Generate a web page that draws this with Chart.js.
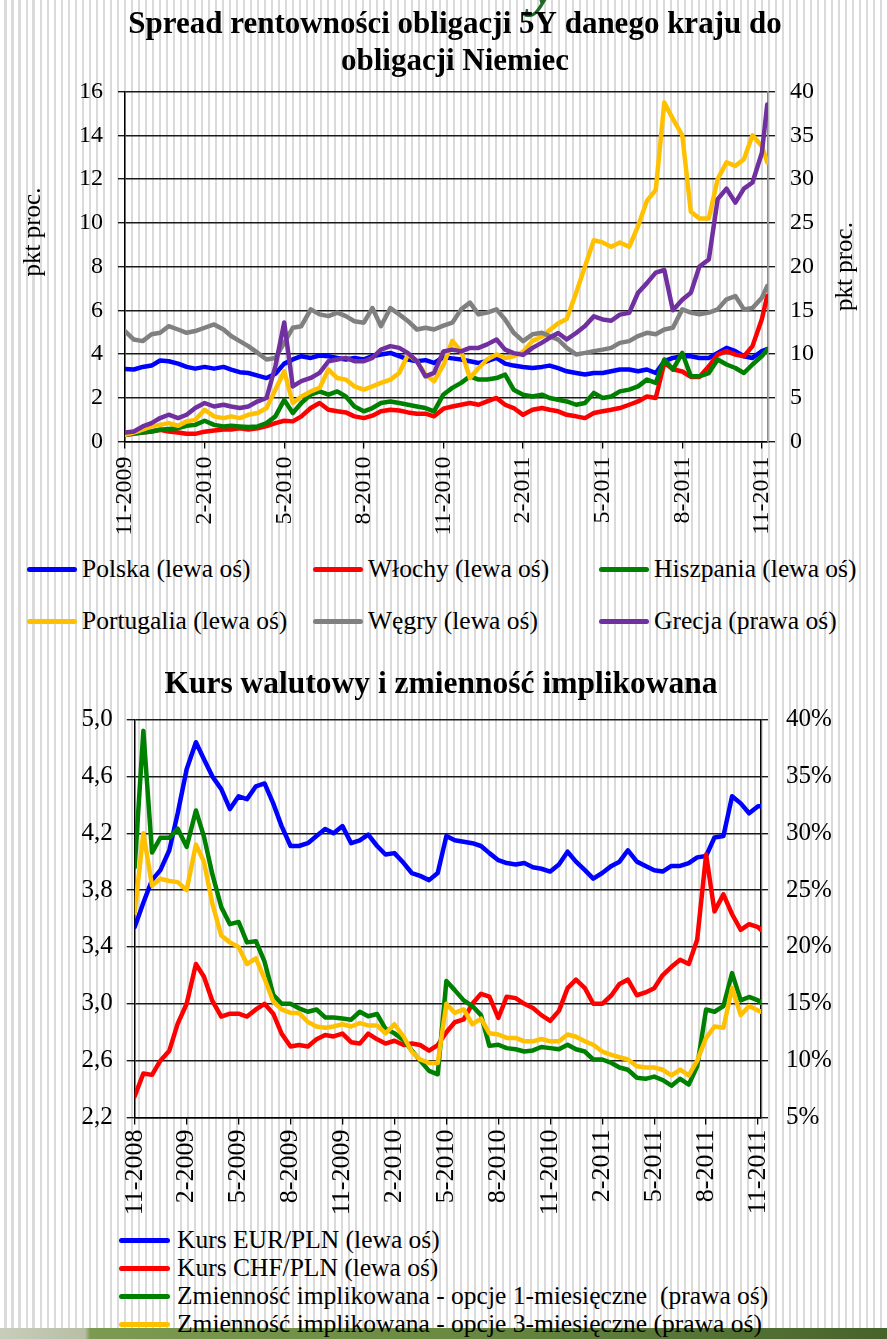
<!DOCTYPE html>
<html>
<head>
<meta charset="utf-8">
<script src="https://cdn.jsdelivr.net/npm/chart.js@4.4.1/dist/chart.umd.min.js"></script>
<style>
html,body{margin:0;padding:0;}
body{width:887px;height:1339px;position:relative;overflow:hidden;
  background:repeating-linear-gradient(90deg,#ffffff 0px,#ffffff 4.5px,#dadada 4.5px,#dadada 7px);
  font-family:'Liberation Serif','Times New Roman',serif;color:#000;}
canvas{position:absolute;left:0;}
#c1{top:0;}
#c2{top:650px;}
.leg{position:absolute;display:flex;align-items:center;height:30px;line-height:30px;font-size:25.5px;white-space:pre;}
.sw{display:inline-block;height:5px;border-radius:3px;}
#band{position:absolute;left:0;top:1328px;width:887px;height:11px;
  background:linear-gradient(90deg,#c8cdbb 0px,#b7bfa5 85px,#7d9a52 90px,#6a8a42 50%,#47632c 100%);}
#deco{position:absolute;left:531px;top:-50px;font:italic bold 64px/64px 'Liberation Serif',serif;color:#1f6a2a;}
</style>
</head>
<body>
<div id="deco">y</div>
<canvas id="c1" width="887" height="548"></canvas>
<canvas id="c2" width="887" height="575"></canvas>
<div id="band"></div>
<script>
// ---------------- Chart 1 data: spreads vs German 5Y bonds ----------------
const title1 = ['Spread rentowności obligacji 5Y danego kraju do', 'obligacji Niemiec'];
const dates1 = [
 '2009-11-01','2009-11-11','2009-11-21','2009-12-01','2009-12-11','2009-12-21',
 '2010-01-01','2010-01-11','2010-01-21','2010-02-01','2010-02-11','2010-02-21',
 '2010-03-01','2010-03-11','2010-03-21','2010-04-01','2010-04-11','2010-04-21',
 '2010-05-01','2010-05-11','2010-05-21','2010-06-01','2010-06-11','2010-06-21',
 '2010-07-01','2010-07-11','2010-07-21','2010-08-01','2010-08-11','2010-08-21',
 '2010-09-01','2010-09-11','2010-09-21','2010-10-01','2010-10-11','2010-10-21',
 '2010-11-01','2010-11-11','2010-11-21','2010-12-01','2010-12-11','2010-12-21',
 '2011-01-01','2011-01-11','2011-01-21','2011-02-01','2011-02-11','2011-02-21',
 '2011-03-01','2011-03-11','2011-03-21','2011-04-01','2011-04-11','2011-04-21',
 '2011-05-01','2011-05-11','2011-05-21','2011-06-01','2011-06-11','2011-06-21',
 '2011-07-01','2011-07-11','2011-07-21','2011-08-01','2011-08-11','2011-08-21',
 '2011-09-01','2011-09-11','2011-09-21','2011-10-01','2011-10-11','2011-10-21',
 '2011-11-01','2011-11-07'];
const labels1 = ['Polska (lewa oś)','Włochy (lewa oś)','Hiszpania (lewa oś)','Portugalia (lewa oś)','Węgry (lewa oś)','Grecja (prawa oś)'];
const polska = [3.32,3.29,3.41,3.47,3.7,3.67,3.56,3.41,3.33, 3.41,3.33,3.41,3.29,3.17,3.13,3.01,2.9,3.1,
 3.56,3.75,3.9,3.82,3.93,3.9,3.82,3.75,3.82, 3.75,3.9,3.98,4.05,3.9,3.75,3.67,3.72,3.59,
 3.85,3.8,3.75,3.67,3.59,3.67,3.82,3.56,3.47, 3.41,3.36,3.41,3.47,3.35,3.21,3.13,3.06,3.13,
 3.13,3.21,3.29,3.29,3.21,3.29,3.13,3.67,3.82, 3.9,3.9,3.82,3.82,4.05,4.28,4.13,3.9,3.82, 4.13,4.23];
const wlochy = [0.3,0.35,0.41,0.46,0.54,0.46,0.41,0.35,0.35, 0.45,0.5,0.55,0.55,0.6,0.55,0.6,0.7,0.84,
 0.95,0.92,1.15,1.53,1.76,1.45,1.38,1.33,1.15, 1.07,1.18,1.38,1.45,1.42,1.33,1.27,1.27,1.15,
 1.5,1.6,1.68,1.76,1.68,1.83,1.99,1.68,1.53, 1.22,1.45,1.53,1.45,1.38,1.22,1.15,1.07,1.3,
 1.38,1.45,1.53,1.68,1.83,2.06,1.99,3.6,3.3, 3.2,2.95,2.95,3.44,3.97,4.13,3.97,3.9,4.36, 5.6,6.65];
const hiszpania = [0.3,0.38,0.41,0.46,0.54,0.57,0.61,0.72,0.76, 0.95,0.76,0.69,0.72,0.69,0.66,0.69,0.84,1.15,
 1.9,1.3,1.76,2.14,2.29,2.14,2.29,2.06,1.6, 1.38,1.53,1.76,1.83,1.76,1.68,1.6,1.53,1.38,
 2.15,2.45,2.68,2.98,2.83,2.83,2.9,3.06,2.37, 2.14,2.06,2.14,1.99,1.91,1.83,1.68,1.76,2.22,
 1.99,2.06,2.29,2.37,2.52,2.83,2.68,3.75,3.29, 4.05,2.98,2.98,3.13,3.75,3.52,3.36,3.13,3.52, 3.9,4.2];
const portugalia = [0.3,0.41,0.54,0.69,0.76,0.84,0.72,0.92,0.99, 1.45,1.15,1.07,1.15,1.07,1.22,1.3,1.53,2.37,
 3.21,1.76,2.06,2.29,2.45,3.29,2.9,2.83,2.52, 2.37,2.52,2.68,2.83,3.13,3.98,3.67,3.06,2.75,
 3.5,4.6,4.13,2.9,3.36,3.75,3.98,3.82,3.9, 4.1,4.6,4.8,5.1,5.4,5.6,6.8,8.0,9.2,
 9.1,8.9,9.1,8.9,9.85,11.0,11.5,15.5,14.75, 14.0,10.5,10.2,10.2,12.0,12.76,12.6,12.9,14.0, 13.5,12.76];
const wegry = [5.05,4.66,4.59,4.9,4.97,5.27,5.12,4.97,5.05, 5.2,5.35,5.12,4.82,4.59,4.36,4.05,3.75,3.82,
 4.51,5.2,5.27,6.04,5.81,5.73,5.89,5.73,5.5, 5.43,6.1,5.27,6.1,5.81,5.5,5.12,5.2,5.12,
 5.3,5.43,6.04,6.35,5.81,5.89,6.04,5.58,4.97, 4.59,4.9,4.97,4.82,4.66,4.28,3.98,4.05,4.13,
 4.2,4.28,4.51,4.59,4.82,4.97,4.9,5.12,5.2, 6.04,5.89,5.81,5.89,6.04,6.5,6.65,6.04,6.1, 6.57,7.1];
const grecja = [1.03,1.15,1.72,2.1,2.68,3.06,2.68,3.06,3.82, 4.4,4.0,4.2,4.0,3.82,4.0,4.59,4.97,8.6,
 13.6,6.3,6.9,7.26,7.84,9.17,9.37,9.56,9.17, 9.17,9.56,10.5,10.9,10.7,10.1,9.17,7.45,7.84,
 10.3,10.5,10.3,10.7,10.7,11.1,11.66,10.5,10.1, 9.9,10.7,11.3,11.85,12.4,11.66,12.4,13.2,14.3,
 13.95,13.8,14.5,14.7,17.0,18.1,19.3,19.6,15.0, 16.2,17.0,20.0,20.8,27.7,28.9,27.3,28.9,29.6, 33.0,38.5];
const colors1 = ['#0000FF','#FF0000','#008000','#FFC000','#808080','#7030A0'];
const axes1 = ['y','y','y','y','y','y2'];
const yTicksLeft1 = {min:0, max:16, step:2};
const yTicksRight1 = {min:0, max:40, step:5};

// ---------------- Chart 2 data: FX rates and implied volatility ----------------
const title2 = 'Kurs walutowy i zmienność implikowana';
const dates2 = [
 '2008-11-01','2008-11-16','2008-12-01','2008-12-16',
 '2009-01-01','2009-01-16','2009-02-01','2009-02-16','2009-03-01','2009-03-16','2009-04-01','2009-04-16',
 '2009-05-01','2009-05-16','2009-06-01','2009-06-16','2009-07-01','2009-07-16','2009-08-01','2009-08-16',
 '2009-09-01','2009-09-16','2009-10-01','2009-10-16','2009-11-01','2009-11-16','2009-12-01','2009-12-16',
 '2010-01-01','2010-01-16','2010-02-01','2010-02-16','2010-03-01','2010-03-16','2010-04-01','2010-04-16',
 '2010-05-01','2010-05-16','2010-06-01','2010-06-16','2010-07-01','2010-07-16','2010-08-01','2010-08-16',
 '2010-09-01','2010-09-16','2010-10-01','2010-10-16','2010-11-01','2010-11-16','2010-12-01','2010-12-16',
 '2011-01-01','2011-01-16','2011-02-01','2011-02-16','2011-03-01','2011-03-16','2011-04-01','2011-04-16',
 '2011-05-01','2011-05-16','2011-06-01','2011-06-16','2011-07-01','2011-07-16','2011-08-01','2011-08-16',
 '2011-09-01','2011-09-16','2011-10-01','2011-10-16','2011-11-01','2011-11-06'];
const labels2 = ['Kurs EUR/PLN (lewa oś)','Kurs CHF/PLN (lewa oś)','Zmienność implikowana - opcje 1-miesięczne  (prawa oś)','Zmienność implikowana - opcje 3-miesięczne (prawa oś)'];
const eurpln = [3.54,3.71,3.87,3.94,4.08,4.34,4.65,4.84,4.72,4.6,
 4.51,4.37,4.46,4.44,4.53,4.55,4.41,4.25,4.11,4.11,
 4.13,4.18,4.23,4.2,4.25,4.13,4.15,4.19,4.11,4.05,
 4.06,3.99,3.92,3.9,3.87,3.92,4.18,4.15,4.14,4.13,
 4.11,4.06,4.01,3.99,3.98,3.99,3.96,3.95,3.93,3.98,
 4.07,4.0,3.94,3.88,3.92,3.97,4.0,4.08,4.0,3.97,
 3.94,3.93,3.97,3.97,3.99,4.03,4.04,4.17,4.18,4.46,
 4.41,4.34,4.39,4.39];
const chfpln = [2.35,2.51,2.5,2.6,2.67,2.86,3.0,3.28,3.19,3.02,
 2.91,2.93,2.93,2.91,2.96,3.0,2.93,2.79,2.7,2.71,
 2.7,2.75,2.78,2.77,2.79,2.73,2.72,2.79,2.75,2.72,
 2.74,2.71,2.72,2.71,2.67,2.71,2.8,2.87,2.89,3.0,
 3.07,3.05,2.9,3.05,3.04,3.0,2.97,2.92,2.88,2.95,
 3.11,3.17,3.11,3.0,3.0,3.06,3.14,3.17,3.06,3.08,
 3.11,3.2,3.26,3.31,3.28,3.45,4.05,3.65,3.77,3.63,
 3.52,3.56,3.54,3.52];
const vol1m = [27,39,28.3,29.6,29.6,30.4,28.8,32,29.7,26.4,
 23.5,22,22.2,20.4,20.5,18.7,15.8,15,15,14.6,
 14.3,14.5,13.8,13.8,13.7,13.6,14.3,13.9,14.1,12.8,
 12.4,11.8,10.9,10,9.1,8.8,17,16.2,15.3,14.8,
 14.0,11.3,11.4,11.1,11.0,10.8,10.9,11.2,11.1,11.0,
 11.4,11.0,10.8,10.1,10.1,9.8,9.4,9.2,8.5,8.4,
 8.6,8.3,7.8,8.4,7.9,9.5,14.5,14.3,14.8,17.7,
 15.3,15.6,15.3,15.1];
const vol3m = [23,30,25.4,26,25.8,25.7,25,29,27.5,23.8,
 21,20.4,20,18.5,19,17.2,15.2,14.5,14.2,14.2,
 13.4,13,12.9,13,13.2,13,13.3,13.1,13.1,12.4,
 13.2,12.1,10.8,10.1,9.8,9.8,15,14.2,14.5,13.2,
 13.7,12.4,12.3,12.0,12.0,11.7,11.7,11.9,11.7,11.7,
 12.3,12.1,11.7,11.4,10.8,10.5,10.3,10.1,9.5,9.4,
 9.4,9.2,8.7,9.2,8.7,10.0,12.0,13.0,12.9,16.4,
 14.0,14.8,14.4,14.3];
const colors2 = ['#0000FF','#FF0000','#008000','#FFC000'];
const axes2 = ['y','y','y2','y2'];
const yTicksLeft2 = {min:2.2, max:5.0, step:0.4};
const yTicksRight2 = {min:5, max:40, step:5};

// ---------------- helpers ----------------
function monthPos(s, y0, m0){
  const [y,m,d] = s.split('-').map(Number);
  const dim = new Date(y, m, 0).getDate();
  return (y - y0) * 12 + (m - m0) + (d - 1) / dim;
}
function monthLabel(v, y0, m0){
  const idx = (m0 - 1) + Math.round(v);
  return ((idx % 12) + 1) + '-' + (y0 + Math.floor(idx / 12));
}
Chart.defaults.font.family = "'Liberation Serif','Times New Roman',serif";
Chart.defaults.color = '#000';

const axisTitles = {
  id:'axisTitles',
  afterDraw(chart, args, opts){
    if(!opts || !opts.items) return;
    const ctx = chart.ctx, ca = chart.chartArea;
    ctx.save();
    ctx.font = opts.font;
    ctx.fillStyle = '#000';
    ctx.textAlign = 'center';
    ctx.textBaseline = 'middle';
    opts.items.forEach(it => {
      const x = it.side === 'left' ? ca.left + it.dx : ca.right + it.dx;
      const y = ca.top + it.dy;
      ctx.save(); ctx.translate(x, y); ctx.rotate(-Math.PI / 2);
      ctx.fillText(it.text, 0, 0); ctx.restore();
    });
    ctx.restore();
  }
};

function buildDatasets(dates, y0, m0, series, labels, colors, axes){
  return series.map((vals, i) => ({
    label: labels[i],
    data: vals.map((v, k) => ({x: monthPos(dates[k], y0, m0), y: v})),
    borderColor: colors[i], backgroundColor: colors[i],
    borderWidth: 4.5, pointRadius: 0, tension: 0,
    borderJoinStyle: 'round', borderCapStyle: 'round',
    yAxisID: axes[i], order: series.length - i
  }));
}

function htmlLegend(chart, positions, swW, gap){
  chart.data.datasets.forEach((ds, i) => {
    const p = positions[i];
    const d = document.createElement('div');
    d.className = 'leg';
    d.style.left = p[0] + 'px';
    d.style.top = (p[1] - 15) + 'px';
    const sw = document.createElement('span');
    sw.className = 'sw';
    sw.style.width = swW + 'px';
    sw.style.marginRight = gap + 'px';
    sw.style.background = ds.borderColor;
    const t = document.createElement('span');
    t.textContent = ds.label;
    d.appendChild(sw); d.appendChild(t);
    document.body.appendChild(d);
  });
}

// ---------------- Chart 1 ----------------
const chart1 = new Chart(document.getElementById('c1'), {
  type: 'line',
  data: { datasets: buildDatasets(dates1, 2009, 11, [polska, wlochy, hiszpania, portugalia, wegry, grecja], labels1, colors1, axes1) },
  options: {
    responsive: false, animation: false, devicePixelRatio: 1,
    layout: { padding: {left: 23, right: 0, top: 0, bottom: 0} },
    plugins: {
      legend: {display: false}, tooltip: {enabled: false},
      title: { display: true, text: title1, color: '#000',
        font: {size: 31, weight: 'bold', lineHeight: '37px'}, padding: {top: 6.5, bottom: 11} },
      axisTitles: { font: "25px 'Liberation Serif'", items: [
        {side: 'left', dx: -92, dy: 140.5, text: 'pkt proc.'},
        {side: 'right', dx: 77, dy: 175, text: 'pkt proc.'} ] }
    },
    scales: {
      x: { type: 'linear', min: 0, max: 24.23,
        afterFit(s){ s.height = 106.5; },
        grid: {drawOnChartArea: false, drawTicks: true, tickLength: 7, color: '#000', lineWidth: 1.3},
        border: {color: '#000', width: 1.5},
        ticks: {stepSize: 3, includeBounds: false, autoSkip: false, maxRotation: 90, minRotation: 90,
          padding: 8, font: {size: 24}, color: '#000',
          callback: v => monthLabel(v, 2009, 11)} },
      y: { position: 'left', min: yTicksLeft1.min, max: yTicksLeft1.max,
        afterFit(s){ s.width = 102; },
        grid: {color: '#1a1a1a', lineWidth: 1.4, tickLength: 7},
        border: {color: '#000', width: 1.5},
        ticks: {stepSize: yTicksLeft1.step, padding: 15, font: {size: 24}, color: '#000'} },
      y2: { position: 'right', min: yTicksRight1.min, max: yTicksRight1.max,
        afterFit(s){ s.width = 119; },
        grid: {drawOnChartArea: false, color: '#1a1a1a', lineWidth: 1.4, tickLength: 7},
        border: {color: '#8a8a8a', width: 1.5},
        ticks: {stepSize: yTicksRight1.step, padding: 15, font: {size: 24}, color: '#000'} }
    }
  },
  plugins: [axisTitles]
});
htmlLegend(chart1, [[27,569],[313,569],[599,569],[27,621],[313,621],[599,621]], 50, 5);

// ---------------- Chart 2 ----------------
const chart2 = new Chart(document.getElementById('c2'), {
  type: 'line',
  data: { datasets: buildDatasets(dates2, 2008, 11, [eurpln, chfpln, vol1m, vol3m], labels2, colors2, axes2) },
  options: {
    responsive: false, animation: false, devicePixelRatio: 1,
    layout: { padding: {left: 0, right: 5, top: 0, bottom: 0} },
    plugins: {
      legend: {display: false}, tooltip: {enabled: false},
      title: { display: true, text: title2, color: '#000',
        font: {size: 31.5, weight: 'bold', lineHeight: '37px'}, padding: {top: 16.5, bottom: 16} }
    },
    scales: {
      x: { type: 'linear', min: 0, max: 36.17,
        afterFit(s){ s.height = 107.5; },
        grid: {drawOnChartArea: false, drawTicks: true, tickLength: 7, color: '#000', lineWidth: 1.3},
        border: {color: '#000', width: 1.5},
        ticks: {stepSize: 3, includeBounds: false, autoSkip: false, maxRotation: 90, minRotation: 90,
          padding: 5, font: {size: 26}, color: '#000',
          callback: v => monthLabel(v, 2008, 11)} },
      y: { position: 'left', min: yTicksLeft2.min, max: yTicksLeft2.max,
        afterFit(s){ s.width = 134.7; },
        grid: {color: '#1a1a1a', lineWidth: 1.4, tickLength: 8},
        border: {color: '#000', width: 1.5},
        ticks: {stepSize: yTicksLeft2.step, padding: 14, font: {size: 25}, color: '#000',
          callback: v => v.toFixed(1).replace('.', ',')} },
      y2: { position: 'right', min: yTicksRight2.min, max: yTicksRight2.max,
        afterFit(s){ s.width = 121; },
        grid: {drawOnChartArea: false, color: '#1a1a1a', lineWidth: 1.4, tickLength: 7},
        border: {color: '#000', width: 1.5},
        ticks: {stepSize: yTicksRight2.step, padding: 18, font: {size: 25}, color: '#000',
          callback: v => v + '%'} }
    }
  }
});
htmlLegend(chart2, [[119,1240],[119,1268],[119,1296],[119,1324]], 51, 7);
</script>
</body>
</html>
